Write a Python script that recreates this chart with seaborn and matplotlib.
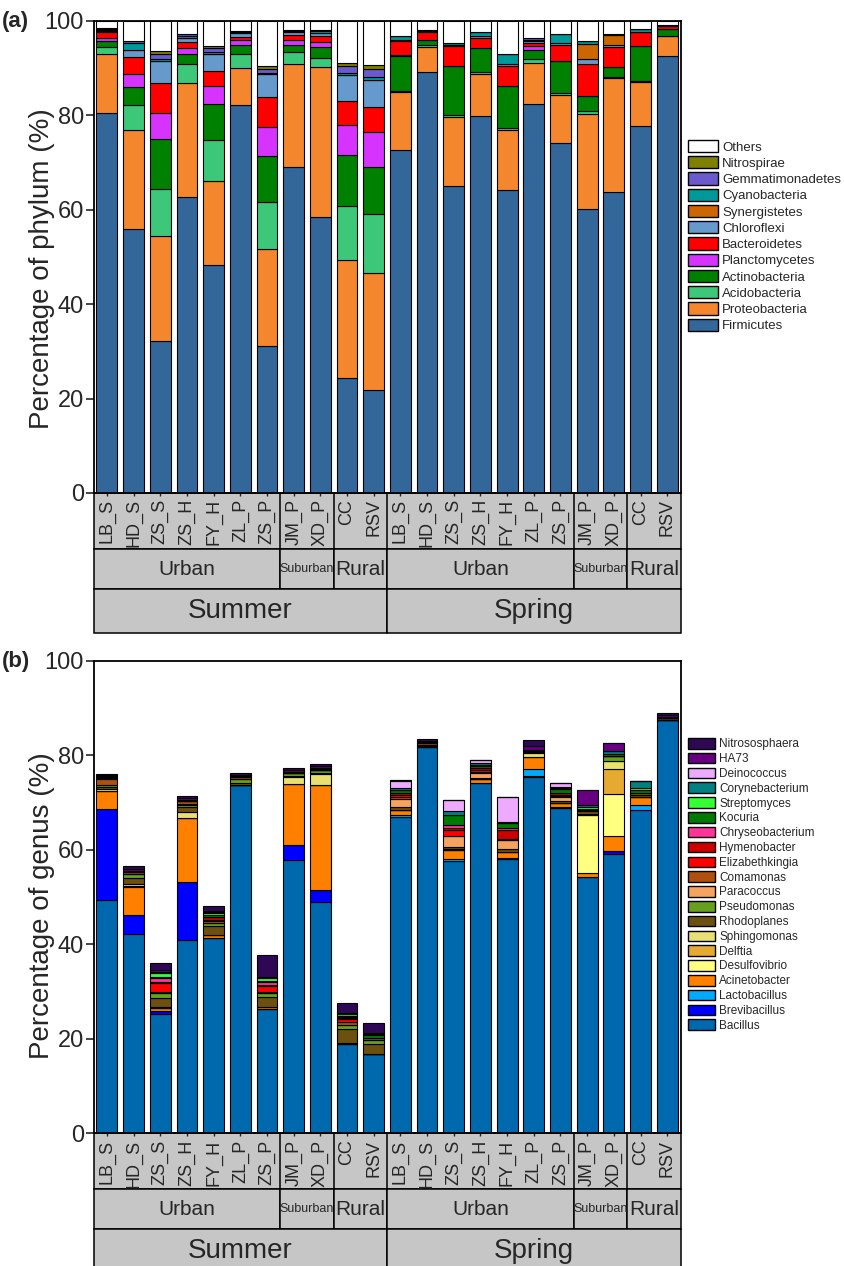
import pandas as pd
import matplotlib
matplotlib.use("Agg")
import matplotlib.pyplot as plt
from matplotlib.patches import Rectangle, Patch
import seaborn as sns

# ---------------------------------------------------------------- samples
samples = ["LB_S", "HD_S", "ZS_S", "ZS_H", "FY_H", "ZL_P", "ZS_P",
           "JM_P", "XD_P", "CC", "RSV"] * 2
regions = [("Urban", 7), ("Suburban", 2), ("Rural", 2)] * 2
seasons = [("Summer", 11), ("Spring", 11)]

# ---------------------------------------------------------------- phylum (%)
firmicutes = [80.5, 55.8, 32.1, 62.7, 48.3, 82.2, 31.2, 69.0, 58.5, 24.4, 21.8,
              72.6, 89.2, 64.9, 79.8, 64.1, 82.4, 74.0, 60.1, 63.7, 77.7, 92.6]
proteobacteria = [12.5, 21.1, 22.2, 24.1, 17.7, 7.8, 20.5, 21.9, 31.6, 25.0, 24.8,
                  12.3, 5.3, 14.7, 9.0, 12.8, 8.6, 10.2, 20.2, 24.2, 9.3, 4.2]
acidobacteria = [1.5, 5.2, 10.1, 4.0, 8.8, 2.9, 9.9, 2.4, 2.0, 11.3, 12.4,
                 0.3, 0.4, 0.4, 0.3, 0.3, 0.9, 0.5, 0.5, 0.2, 0.2, 0.0]
actinobacteria = [1.2, 3.8, 10.5, 2.1, 7.5, 1.9, 9.8, 1.6, 2.4, 10.9, 10.1,
                  7.4, 1.1, 10.3, 5.2, 8.9, 1.9, 6.8, 3.2, 2.0, 7.5, 1.4]
planctomycetes = [0.6, 2.8, 5.6, 1.4, 3.9, 1.2, 6.0, 1.0, 0.9, 6.2, 7.4,
                  0.1, 0.0, 0.1, 0.0, 0.1, 0.8, 0.0, 0.0, 0.0, 0.0, 0.0]
bacteroidetes = [1.2, 3.5, 6.2, 1.1, 3.1, 0.6, 6.4, 1.1, 1.4, 5.2, 5.2,
                 3.0, 1.5, 4.2, 2.1, 4.3, 0.7, 3.4, 6.9, 4.4, 2.8, 0.6]
chloroflexi = [0.4, 1.6, 4.8, 0.9, 3.6, 0.7, 4.8, 0.5, 0.5, 5.4, 5.7,
               0.2, 0.2, 0.2, 0.3, 0.3, 0.3, 0.3, 1.0, 0.4, 0.0, 0.0]
synergistetes = [0.0, 0.0, 0.0, 0.0, 0.0, 0.0, 0.0, 0.0, 0.0, 0.0, 0.0,
                 0.0, 0.0, 0.0, 0.0, 0.0, 0.0, 0.0, 3.2, 2.0, 0.0, 0.0]
cyanobacteria = [0.2, 1.4, 0.4, 0.5, 0.5, 0.2, 0.3, 0.3, 0.5, 0.5, 0.6,
                 0.8, 0.3, 0.5, 0.8, 2.1, 0.3, 2.0, 0.6, 0.0, 0.7, 0.2]
gemmatimonadetes = [0.2, 0.5, 1.1, 0.3, 0.8, 0.2, 0.9, 0.2, 0.2, 1.6, 1.8,
                    0.0, 0.0, 0.0, 0.0, 0.0, 0.4, 0.0, 0.0, 0.2, 0.0, 0.0]
nitrospirae = [0.1, 0.0, 0.6, 0.0, 0.4, 0.0, 0.5, 0.0, 0.0, 0.5, 0.8,
               0.0, 0.0, 0.0, 0.0, 0.0, 0.0, 0.0, 0.0, 0.0, 0.0, 0.0]
others = [1.6, 4.3, 6.4, 2.9, 5.4, 2.3, 9.7, 2.0, 2.0, 9.0, 9.4,
          3.3, 2.0, 4.7, 2.5, 7.1, 3.7, 2.8, 4.3, 2.9, 1.8, 1.0]

phylum_names = ["Others", "Nitrospirae", "Gemmatimonadetes", "Cyanobacteria",
                "Synergistetes", "Chloroflexi", "Bacteroidetes", "Planctomycetes",
                "Actinobacteria", "Acidobacteria", "Proteobacteria", "Firmicutes"]
phylum_values = [others, nitrospirae, gemmatimonadetes, cyanobacteria,
                 synergistetes, chloroflexi, bacteroidetes, planctomycetes,
                 actinobacteria, acidobacteria, proteobacteria, firmicutes]
phylum_colors = ["#FFFFFF", "#808000", "#6A5ACD", "#009999", "#CC6600", "#6699CC",
                 "#FF0000", "#D633FF", "#008000", "#3CC878", "#F4862D", "#336699"]

# ---------------------------------------------------------------- genus (%)
bacillus = [49.3, 42.1, 25.2, 40.9, 41.4, 73.7, 26.4, 57.8, 49.0, 19.0, 16.7,
            67.0, 81.7, 57.7, 74.2, 58.1, 75.4, 68.8, 54.2, 59.1, 68.4, 87.5]
brevibacillus = [19.3, 4.0, 0.6, 12.2, 0.0, 0.0, 0.0, 3.2, 2.4, 0.0, 0.0,
                 0.0, 0.0, 0.0, 0.0, 0.0, 0.3, 0.0, 0.0, 0.7, 0.0, 0.0]
lactobacillus = [0.0, 0.0, 0.0, 0.0, 0.0, 0.0, 0.0, 0.0, 0.0, 0.0, 0.0,
                 0.3, 0.0, 0.3, 0.0, 0.2, 1.3, 0.2, 0.0, 0.0, 1.1, 0.0]
acinetobacter = [3.8, 6.0, 0.7, 13.7, 0.5, 0.0, 0.3, 13.0, 22.3, 0.2, 0.0,
                 1.2, 0.2, 1.9, 0.7, 1.2, 2.6, 0.8, 0.8, 3.1, 1.7, 0.0]
desulfovibrio = [0.0, 0.2, 0.0, 0.0, 0.0, 0.0, 0.0, 0.0, 0.0, 0.0, 0.0,
                 0.0, 0.0, 0.0, 0.0, 0.0, 0.0, 0.0, 12.3, 9.0, 0.0, 0.0]
delftia = [0.0, 0.0, 0.0, 0.0, 0.0, 0.0, 0.0, 0.0, 0.0, 0.0, 0.0,
           0.0, 0.0, 0.0, 0.0, 0.0, 0.0, 0.0, 0.0, 5.2, 0.0, 0.0]
sphingomonas = [0.5, 0.5, 0.2, 1.2, 0.0, 0.0, 0.0, 1.4, 2.3, 0.0, 0.0,
                0.0, 0.0, 0.3, 0.0, 0.0, 0.8, 0.0, 0.3, 1.6, 0.0, 0.0]
rhodoplanes = [0.4, 1.2, 2.0, 1.0, 1.9, 0.5, 2.1, 0.3, 0.3, 2.8, 2.3,
               0.5, 0.3, 0.4, 0.3, 0.6, 0.3, 0.6, 0.5, 0.0, 0.3, 0.3]
pseudomonas = [0.4, 0.9, 1.0, 0.5, 0.8, 0.8, 0.8, 0.5, 0.5, 1.0, 0.7,
               0.0, 0.0, 0.0, 0.0, 0.0, 0.2, 0.0, 0.3, 1.2, 0.0, 0.0]
paracoccus = [0.0, 0.0, 0.0, 0.2, 0.0, 0.0, 0.0, 0.0, 0.0, 0.0, 0.0,
              1.8, 0.0, 2.3, 1.0, 1.9, 0.0, 0.7, 0.0, 0.0, 0.0, 0.0]
comamonas = [1.2, 0.3, 0.3, 0.7, 0.3, 0.3, 0.4, 0.0, 0.0, 0.5, 0.5,
             0.4, 0.3, 0.0, 0.3, 0.0, 0.0, 0.2, 0.0, 0.0, 0.6, 0.0]
elizabethkingia = [0.2, 0.0, 1.8, 0.0, 0.3, 0.0, 1.2, 0.0, 0.0, 0.6, 0.0,
                   0.3, 0.0, 1.3, 0.3, 0.2, 0.0, 0.3, 0.0, 0.0, 0.0, 0.0]
hymenobacter = [0.2, 0.2, 0.3, 0.0, 0.6, 0.0, 0.2, 0.0, 0.0, 0.3, 0.0,
                0.6, 0.0, 0.5, 0.4, 2.0, 0.0, 0.4, 0.0, 0.0, 0.0, 0.0]
chryseobacterium = [0.0, 0.0, 0.8, 0.0, 0.0, 0.0, 0.6, 0.0, 0.0, 0.2, 0.0,
                    0.0, 0.0, 0.5, 0.0, 0.3, 0.0, 0.0, 0.0, 0.0, 0.0, 0.0]
kocuria = [0.2, 0.2, 0.2, 0.2, 0.5, 0.3, 0.2, 0.3, 0.2, 0.3, 0.5,
           0.6, 0.2, 2.2, 0.6, 1.1, 0.3, 0.8, 0.3, 0.4, 0.5, 0.3]
streptomyces = [0.0, 0.0, 0.9, 0.0, 0.3, 0.0, 0.6, 0.0, 0.0, 0.3, 0.3,
                0.0, 0.0, 0.0, 0.2, 0.0, 0.0, 0.2, 0.3, 0.0, 0.5, 0.0]
corynebacterium = [0.2, 0.0, 0.2, 0.0, 0.2, 0.0, 0.2, 0.0, 0.3, 0.0, 0.0,
                   0.4, 0.0, 0.7, 0.3, 0.3, 0.0, 0.3, 0.4, 0.5, 1.5, 0.0]
deinococcus = [0.0, 0.0, 0.0, 0.0, 0.0, 0.0, 0.0, 0.0, 0.0, 0.0, 0.0,
               1.4, 0.0, 2.4, 0.7, 5.3, 0.0, 0.9, 0.0, 0.0, 0.0, 0.0]
ha73 = [0.2, 0.3, 0.3, 0.3, 0.3, 0.3, 0.0, 0.4, 0.4, 0.2, 0.2,
        0.2, 0.3, 0.0, 0.0, 0.0, 0.7, 0.0, 3.3, 1.7, 0.0, 0.4]
nitrososphaera = [0.2, 0.6, 1.6, 0.4, 1.0, 0.3, 4.8, 0.5, 0.5, 2.2, 2.2,
                  0.0, 0.4, 0.0, 0.0, 0.0, 1.3, 0.0, 0.0, 0.0, 0.0, 0.5]

genus_names = ["Nitrososphaera", "HA73", "Deinococcus", "Corynebacterium",
               "Streptomyces", "Kocuria", "Chryseobacterium", "Hymenobacter",
               "Elizabethkingia", "Comamonas", "Paracoccus", "Pseudomonas",
               "Rhodoplanes", "Sphingomonas", "Delftia", "Desulfovibrio",
               "Acinetobacter", "Lactobacillus", "Brevibacillus", "Bacillus"]
genus_values = [nitrososphaera, ha73, deinococcus, corynebacterium,
                streptomyces, kocuria, chryseobacterium, hymenobacter,
                elizabethkingia, comamonas, paracoccus, pseudomonas,
                rhodoplanes, sphingomonas, delftia, desulfovibrio,
                acinetobacter, lactobacillus, brevibacillus, bacillus]
genus_colors = ["#2E0854", "#660080", "#EEAAFF", "#008080", "#33FF33", "#007A00",
                "#FF3399", "#CC0000", "#FF0000", "#B05010", "#F4A460", "#66A01E",
                "#6B5010", "#E8E070", "#E6AA33", "#FFFF80", "#FF8000", "#00AAFF",
                "#0000FF", "#0068AD"]

# ---------------------------------------------------------------- style
sns.set_style("ticks")
plt.rcParams["font.family"] = ["Liberation Sans", "DejaVu Sans"]
plt.rcParams["axes.linewidth"] = 1.3

GRAY = "#C6C6C6"
ROWS = [0.0, -0.1186, -0.2033, -0.2964]  # tick / region / season rows (axes fraction)


def long_table(names, series):
    rows = []
    for name, vals in zip(names, series):
        for i, v in enumerate(vals):
            rows.append({"pos": i, "taxon": name, "pct": v})
    return pd.DataFrame(rows)


def draw_panel(ax, names, series, colors, ylabel, label_y):
    df = long_table(names, series)
    sns.histplot(data=df, x="pos", weights="pct", hue="taxon", hue_order=names,
                 palette=dict(zip(names, colors)), multiple="stack", discrete=True,
                 shrink=0.78, alpha=1, edgecolor="black", linewidth=0.8,
                 legend=False, ax=ax)
    ax.set_xlim(-0.5, len(samples) - 0.5)
    ax.set_ylim(0, 100)
    ax.set_yticks(range(0, 101, 20))
    ax.tick_params(axis="y", labelsize=17, length=6, width=1.2, pad=1)
    ax.set_xticks(range(len(samples)))
    ax.set_xticklabels(samples, rotation=90, fontsize=13)
    ax.tick_params(axis="x", length=2.5, width=1.0, pad=2)
    ax.set_xlabel("")
    ax.set_ylabel(ylabel, fontsize=20)
    ax.yaxis.set_label_coords(-0.0656, label_y)
    for s in ax.spines.values():
        s.set_visible(True)
        s.set_linewidth(1.3)
        s.set_color("black")

    tr = ax.get_xaxis_transform()
    n = len(samples)
    # sample-name row
    ax.add_patch(Rectangle((-0.5, ROWS[1]), n, ROWS[0] - ROWS[1], transform=tr,
                           facecolor=GRAY, edgecolor="black", linewidth=1.1,
                           clip_on=False, zorder=0.2))
    # region row
    start = 0
    for name, cnt in regions:
        ax.add_patch(Rectangle((start - 0.5, ROWS[2]), cnt, ROWS[1] - ROWS[2],
                               transform=tr, facecolor=GRAY, edgecolor="black",
                               linewidth=1.1, clip_on=False, zorder=0.2))
        if start > 0:
            ax.plot([start - 0.5, start - 0.5], [ROWS[0], ROWS[1]], transform=tr,
                    color="black", linewidth=1.1, clip_on=False, zorder=0.25)
        size = 9 if name == "Suburban" else 15
        ax.text(start - 0.5 + cnt / 2, (ROWS[1] + ROWS[2]) / 2, name, transform=tr,
                ha="center", va="center", fontsize=size, clip_on=False, zorder=3)
        start += cnt
    # season row
    start = 0
    for name, cnt in seasons:
        ax.add_patch(Rectangle((start - 0.5, ROWS[3]), cnt, ROWS[2] - ROWS[3],
                               transform=tr, facecolor=GRAY, edgecolor="black",
                               linewidth=1.1, clip_on=False, zorder=0.2))
        ax.text(start - 0.5 + cnt / 2, (ROWS[2] + ROWS[3]) / 2, name, transform=tr,
                ha="center", va="center", fontsize=20, clip_on=False, zorder=3)
        start += cnt


fig = plt.figure(figsize=(8.45, 12.66), dpi=100)
ax_a = fig.add_axes([0.1107, 0.6106, 0.6947, 0.3731])
ax_b = fig.add_axes([0.1107, 0.1048, 0.6947, 0.3733])

draw_panel(ax_a, phylum_names, phylum_values, phylum_colors,
           "Percentage of phylum (%)", 0.476)
draw_panel(ax_b, genus_names, genus_values, genus_colors,
           "Percentage of genus (%)", 0.481)

fig.text(0.002, 1 - 21.7 / 1266, "(a)", fontsize=16, fontweight="bold",
         ha="left", va="center")
fig.text(0.002, 1 - 661.7 / 1266, "(b)", fontsize=16, fontweight="bold",
         ha="left", va="center")

# legends
h_a = [Patch(facecolor=c, edgecolor="black", linewidth=1.0) for c in phylum_colors]
fig.legend(h_a, phylum_names, loc="upper left", bbox_to_anchor=(0.8142, 0.8895),
           bbox_transform=fig.transFigure, frameon=False, fontsize=9.5,
           handlelength=2.3, handleheight=1.05, handletextpad=0.3,
           labelspacing=0.2, borderpad=0, borderaxespad=0)
h_b = [Patch(facecolor=c, edgecolor="black", linewidth=1.0) for c in genus_colors]
fig.legend(h_b, genus_names, loc="upper left", bbox_to_anchor=(0.8142, 0.4170),
           bbox_transform=fig.transFigure, frameon=False, fontsize=8.5,
           handlelength=2.29, handleheight=1.0, handletextpad=0.34,
           labelspacing=0.21, borderpad=0, borderaxespad=0)

fig.savefig("out.png", dpi=100)
